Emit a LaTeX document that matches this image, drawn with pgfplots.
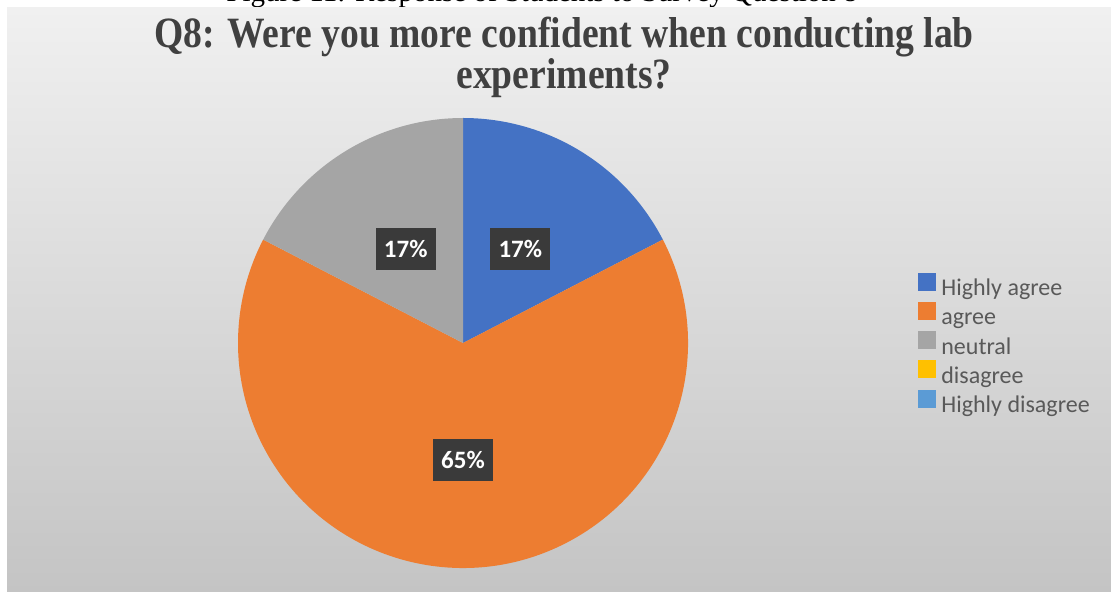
\documentclass[border=0pt]{standalone}
\usepackage{pgfplots}
\pgfplotsset{compat=1.18}
\usepackage{fontspec}
\setmainfont{Liberation Serif}
\newfontfamily\calibri{Carlito}
\definecolor{hablue}{HTML}{4472C4}
\definecolor{agorange}{HTML}{ED7D31}
\definecolor{neugray}{HTML}{A5A5A5}
\definecolor{disyellow}{HTML}{FFC000}
\definecolor{hdblue}{HTML}{5B9BD5}
\definecolor{titlegray}{HTML}{404040}
\definecolor{legtext}{HTML}{595959}
\definecolor{labelbox}{HTML}{3A3A3A}
\definecolor{bgtop}{HTML}{F0F0F0}
\definecolor{bgbot}{HTML}{C4C4C4}

% data (percent of responses)
\def\vHA{17.4}% Highly agree
\def\vA{65.2}%  agree
\def\vN{17.4}%  neutral
\def\vD{0}%     disagree
\def\vHD{0}%    Highly disagree

\pgfmathsetmacro\aZero{90}
\pgfmathsetmacro\aOne{\aZero-3.6*\vHA}
\pgfmathsetmacro\aTwo{\aOne-3.6*\vA}
\pgfmathsetmacro\aThree{\aTwo-3.6*\vN}
\pgfmathsetmacro\mOne{(\aZero+\aOne)/2}
\pgfmathsetmacro\mTwo{(\aOne+\aTwo)/2}
\pgfmathsetmacro\mThree{(\aTwo+\aThree)/2}
\pgfmathsetmacro\xOne{0.49*cos(\mOne)}\pgfmathsetmacro\yOne{0.49*sin(\mOne)}
\pgfmathsetmacro\xTwo{0.52*cos(\mTwo)}\pgfmathsetmacro\yTwo{0.52*sin(\mTwo)}
\pgfmathsetmacro\xThree{0.49*cos(\mThree)}\pgfmathsetmacro\yThree{0.49*sin(\mThree)}

\begin{document}
\begin{tikzpicture}
\useasboundingbox (0,0) rectangle (555.5pt,-296pt);
\clip (0,0) rectangle (555.5pt,-296pt);
\fill[white] (0,0) rectangle (555.5pt,-296pt);
\node[anchor=base west, font=\fontsize{14.5}{17}\selectfont, inner sep=0pt] at (113pt,-1pt) {Figure 11: Response of Students to Survey Question 8};
\shade[top color=bgtop, bottom color=bgbot] (3.5pt,-4pt) rectangle (555.5pt,-296pt);
\node[anchor=base, font=\bfseries\fontsize{18.8}{22}\selectfont, text=titlegray, inner sep=0pt] at (282pt,-24pt) {\scalebox{1}[1.15]{Q8: Were you more confident when conducting lab}};
\node[anchor=base, font=\bfseries\fontsize{18.8}{22}\selectfont, text=titlegray, inner sep=0pt] at (282pt,-44.5pt) {\scalebox{1}[1.15]{experiments?}};
\begin{axis}[
  at={(231.5pt,-171.5pt)}, anchor=center,
  x=112.5pt, y=112.5pt,
  xmin=-1, xmax=1, ymin=-1, ymax=1,
  hide axis, clip=false,
  legend cell align=left,
  legend image code/.code={\fill[#1, draw=none] (0pt,-0.5pt) rectangle (9pt,8.5pt);},
  legend style={at={(1.511,0.657)}, anchor=north west, draw=none, fill=none,
    inner sep=0pt, row sep=0.6pt, column sep=2.5pt,
    font=\calibri\fontsize{12}{14}\selectfont, text=legtext,
    nodes={inner sep=0pt, text height=8.5pt, text depth=2.5pt}},
]
\fill[hablue] (axis cs:0,0) -- ++(\aZero:112.5pt) arc[start angle=\aZero, end angle=\aOne, radius=112.5pt] -- cycle;
\fill[agorange] (axis cs:0,0) -- ++(\aOne:112.5pt) arc[start angle=\aOne, end angle=\aTwo, radius=112.5pt] -- cycle;
\fill[neugray] (axis cs:0,0) -- ++(\aTwo:112.5pt) arc[start angle=\aTwo, end angle=\aThree, radius=112.5pt] -- cycle;
\tikzset{lbl/.style={fill=labelbox, text=white, font=\calibri\bfseries\fontsize{12.5}{15}\selectfont, minimum width=30pt, minimum height=21pt, inner sep=0pt}}
\node[lbl] at (axis cs:\xOne,\yOne) {17\%};
\node[lbl] at (axis cs:\xTwo,\yTwo) {65\%};
\node[lbl] at (axis cs:\xThree,\yThree) {17\%};
\addlegendimage{fill=hablue}\addlegendentry{Highly agree}
\addlegendimage{fill=agorange}\addlegendentry{agree}
\addlegendimage{fill=neugray}\addlegendentry{neutral}
\addlegendimage{fill=disyellow}\addlegendentry{disagree}
\addlegendimage{fill=hdblue}\addlegendentry{Highly disagree}
\end{axis}
\end{tikzpicture}
\end{document}
